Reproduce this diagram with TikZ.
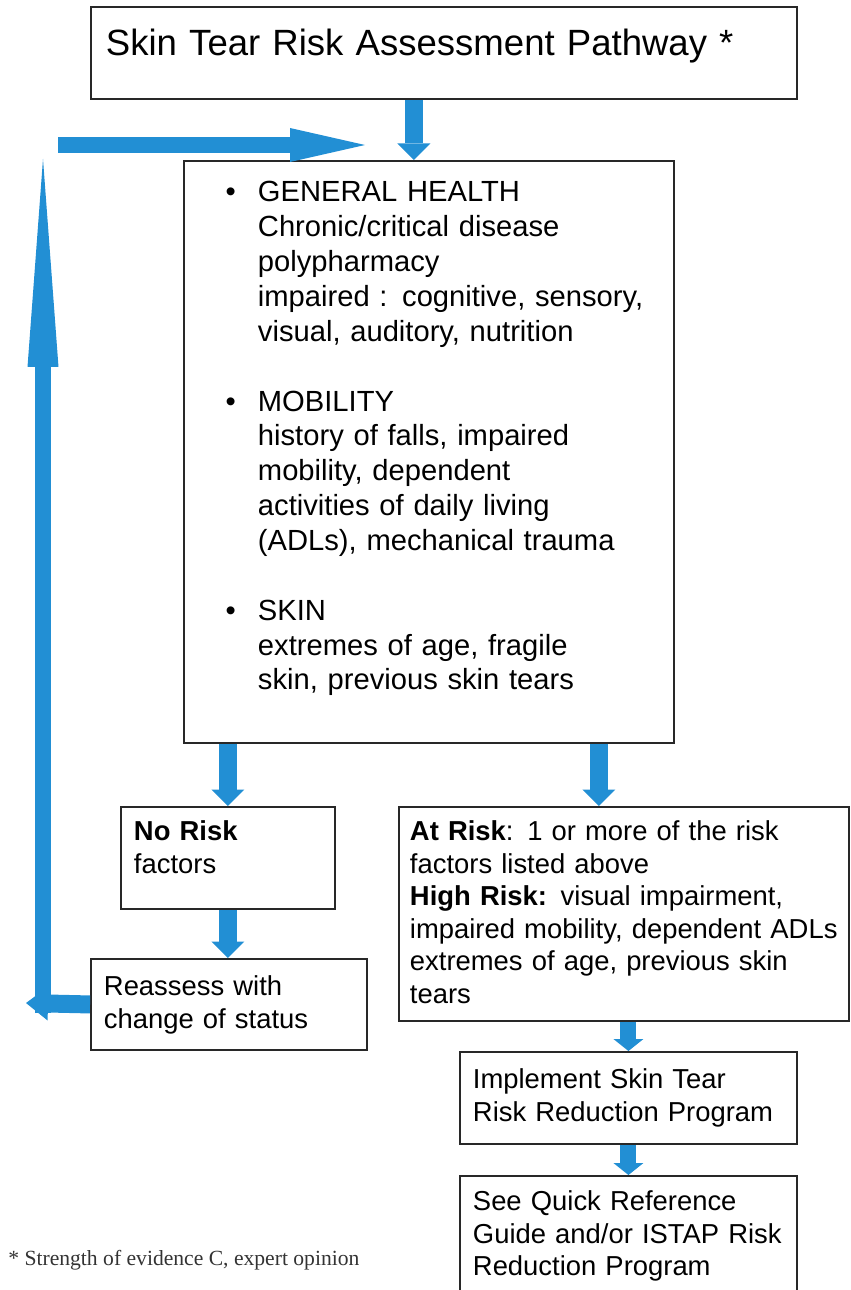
\documentclass[tikz,border=0pt]{standalone}
\usepackage{fontspec}
\setmainfont{Liberation Sans}
\newfontfamily\notefont{Liberation Serif}
\usepackage{xcolor}
\usepackage{tikz}
\usetikzlibrary{arrows.meta}
\usetikzlibrary{positioning}

\definecolor{arrowblue}{RGB}{34,143,212}
\definecolor{boxline}{RGB}{40,40,40}
\newcommand{\bulletmark}{\leavevmode\llap{\textbullet\hspace{0.44cm}}}

\begin{document}
\begin{tikzpicture}[x=0.02cm, y=-0.02cm,
			block/.style={
					rectangle,
					draw=boxline,
					line width=1.1pt,
					anchor=north west,
					align=left,
					inner xsep=0.26cm,
					inner ysep=0pt,
					font=\fontsize{15.6}{18.5}\selectfont
				},
			line/.style={draw=arrowblue, line width=0.37cm, -{Triangle[width=0.66cm, length=0.33cm, line width=0pt]}},
			slim/.style={line width=0.32cm, -{Triangle[width=0.6cm, length=0.24cm, line width=0pt]}},
			longhead/.style={line width=0.34cm, -{Triangle[width=0.62cm, length=4.16cm, line width=0pt]}},
			widehead/.style={line width=0.32cm, -{Triangle[width=0.68cm, length=1.5cm, line width=0pt]}},
			backhead/.style={line width=0.36cm, -{Triangle[width=0.68cm, length=0.44cm, line width=0pt]}}
		]
		\useasboundingbox (0,0) rectangle (850,1290);
		\clip (0,0) rectangle (850,1290);
		% Place nodes
		\node [block, text width=13.52cm, inner xsep=0.3cm, text height=0.98cm, text depth=0.86cm, font=\fontsize{20.8}{24}\selectfont] (title) at (90,6) {Skin Tear Risk Assessment Pathway *};
		\node [block, text width=9.28cm, text height=0.82cm, text depth=10.82cm, font=\fontsize{16.6}{19.84}\selectfont] (main) at (183,160) {\leftskip=1.22cm\relax
			\bulletmark GENERAL HEALTH\\
			Chronic/critical disease\\
			polypharmacy\\
			impaired : cognitive, sensory,\\
			visual, auditory, nutrition\\[\baselineskip]
			\bulletmark MOBILITY\\
			history of falls, impaired\\
			mobility, dependent\\
			activities of daily living\\
			(ADLs), mechanical trauma\\[\baselineskip]
			\bulletmark SKIN\\
			extremes of age, fragile\\
			skin, previous skin tears\par};
		\node [block, text width=3.76cm, text height=0.68cm, text depth=1.36cm] (norisk) at (120,806) {\textbf{No Risk}\\factors};
		\node [block, text width=5.0cm, text height=0.74cm, text depth=1.08cm] (reassess) at (90,958) {Reassess with\\change of status};
		\node [block, text width=8.56cm, inner xsep=0.22cm, text height=0.68cm, text depth=3.6cm] (atrisk) at (398,806) {\textbf{At Risk}: 1 or more of the risk\\factors listed above\\\textbf{High Risk:} visual impairment,\\\mbox{impaired mobility, dependent ADLs}\\extremes of age, previous skin\\tears};
		\node [block, text width=6.22cm, text height=0.74cm, text depth=1.1cm] (implement) at (459,1051) {Implement Skin Tear\\Risk Reduction Program};
		\node [block, text width=6.22cm, text height=0.7cm, text depth=2.4cm] (seequick) at (459,1175) {See Quick Reference\\Guide and/or ISTAP Risk\\Reduction Program};
		\node [anchor=base west, inner sep=0pt, text=black!80, font=\notefont\fontsize{12.3}{14}\selectfont] (note) at (8,1265) {* Strength of evidence C, expert opinion};
		% Loop back points
		\coordinate (looptop) at (43,159);
		\coordinate (loopfoot) at (43,1013);
		\coordinate (loopcorner) at (26,1003);
		\coordinate (loopstart) at (58,145);
		\coordinate (loopaim) at (365,145);
		% Draw edges
		\path [line] ([xshift=-0.6cm]title.south) -- ([xshift=-0.6cm]title.south |- main.north);
		\path [line] (main.south -| norisk.north) -- (norisk.north);
		\path [line] ([xshift=-0.5cm]atrisk.north |- main.south) -- ([xshift=-0.5cm]atrisk.north);
		\path [line] (norisk.south) -- (norisk.south |- reassess.north);
		\path [line, slim] (implement.north |- atrisk.south) -- (implement.north);
		\path [line, slim] (implement.south) -- (seequick.north);
		\path [line, longhead] (loopfoot) -- (looptop);
		\path [line, backhead] (reassess.west) -- (loopcorner);
		\path [line, widehead] (loopstart) -- (loopaim);
	\end{tikzpicture}
\end{document}
